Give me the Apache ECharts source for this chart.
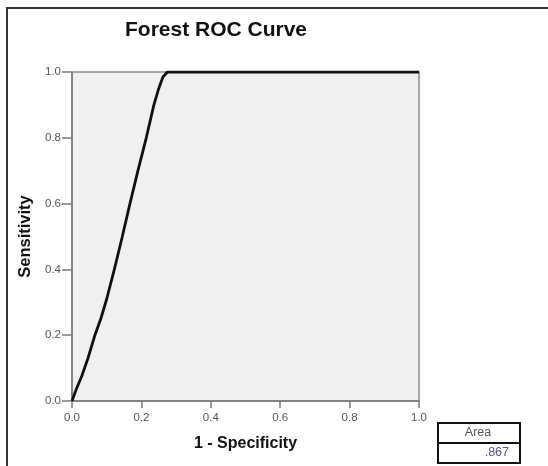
<!DOCTYPE html>
<html>
<head>
<meta charset="utf-8">
<script src="https://cdn.jsdelivr.net/npm/echarts@6/dist/echarts.min.js"></script>
<style>
html,body{margin:0;padding:0;background:#fff;}
#chart{width:548px;height:466px;}
</style>
</head>
<body>
<div id="chart"></div>
<script>
var fpr = [0, 0.012, 0.028, 0.046, 0.066, 0.083, 0.10, 0.122, 0.145, 0.167, 0.19, 0.214, 0.236, 0.25, 0.262, 0.275, 1.0];
var tpr = [0, 0.035, 0.075, 0.13, 0.2, 0.25, 0.31, 0.4, 0.5, 0.6, 0.7, 0.8, 0.9, 0.95, 0.985, 1.0, 1.0];
var axisTicks = [0, 0.2, 0.4, 0.6, 0.8, 1.0];
var areaLabel = ['Area'];
var areaValue = ['.867'];

var chart = echarts.init(document.getElementById('chart'), null, {renderer: 'canvas'});
var pts = fpr.map(function (x, i) { return [x, tpr[i]]; });
var font = 'Liberation Sans, Arial, sans-serif';

chart.setOption({
  animation: false,
  backgroundColor: '#ffffff',
  title: {
    text: 'Forest ROC Curve',
    left: 211, top: 15, textAlign: 'center',
    textStyle: {fontFamily: font, fontSize: 21, fontWeight: 'bold', color: '#111'}
  },
  grid: {
    left: 72, right: 129, top: 72, bottom: 65,
    show: true, backgroundColor: '#f0f0f0', borderColor: '#8a8a8a', borderWidth: 1.5
  },
  xAxis: {
    type: 'value', min: 0, max: 1, interval: 0.2,
    name: '1 - Specificity', nameLocation: 'middle', nameGap: 35,
    nameTextStyle: {fontFamily: font, fontSize: 16, fontWeight: 'bold', color: '#111'},
    axisLine: {show: true, lineStyle: {color: '#7a7a7a', width: 1.5}},
    axisTick: {show: true, length: 7, lineStyle: {color: '#7a7a7a', width: 1.5}},
    axisLabel: {fontFamily: font, fontSize: 11.5, color: '#555', margin: 11,
      formatter: function (v) { return v.toFixed(1); }},
    splitLine: {show: false}
  },
  yAxis: {
    type: 'value', min: 0, max: 1, interval: 0.2,
    name: 'Sensitivity', nameLocation: 'middle', nameGap: 38, nameRotate: 90,
    nameTextStyle: {fontFamily: font, fontSize: 16.5, fontWeight: 'bold', color: '#111'},
    axisLine: {show: true, lineStyle: {color: '#7a7a7a', width: 1.5}},
    axisTick: {show: true, length: 10, lineStyle: {color: '#7a7a7a', width: 1.5}},
    axisLabel: {fontFamily: font, fontSize: 11.5, color: '#555', margin: 11,
      formatter: function (v) { return v.toFixed(1); }},
    splitLine: {show: false}
  },
  series: [{
    type: 'line', data: pts, symbol: 'none', smooth: false,
    lineStyle: {color: '#111', width: 2.8}
  }],
  graphic: [
    {type: 'polyline', shape: {points: [[7, 466], [7, 8], [548, 8]]},
      style: {stroke: '#333', lineWidth: 2, fill: null}},
    {type: 'rect', shape: {x: 438, y: 423, width: 82, height: 40},
      style: {stroke: '#111', lineWidth: 2, fill: '#fff'}},
    {type: 'line', shape: {x1: 438, y1: 443, x2: 520, y2: 443},
      style: {stroke: '#111', lineWidth: 2}},
    {type: 'text', x: 478, y: 433,
      style: {text: areaLabel[0], fontFamily: font, fontSize: 12.5, fill: '#555', align: 'center', verticalAlign: 'middle'}},
    {type: 'text', x: 509, y: 453,
      style: {text: areaValue[0], fontFamily: font, fontSize: 12.5, fill: '#5a4f9e', align: 'right', verticalAlign: 'middle'}}
  ]
});
</script>
</body>
</html>
